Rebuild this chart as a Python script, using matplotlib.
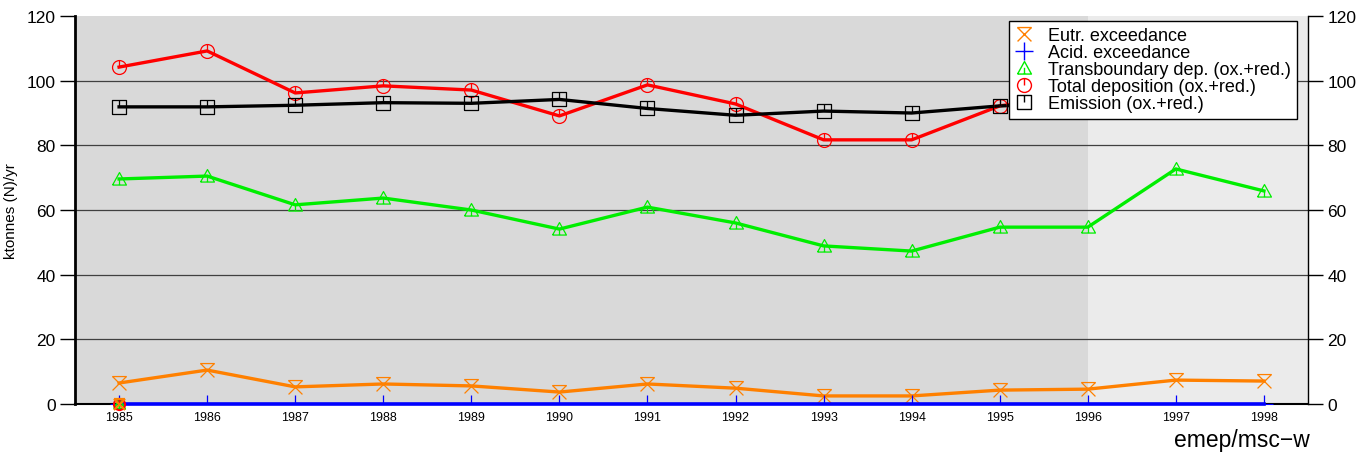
import numpy as np
import matplotlib
matplotlib.use("Agg")
import matplotlib.pyplot as plt
from matplotlib.path import Path
from matplotlib.lines import Line2D

plt.rcParams['font.family'] = ['Liberation Sans', 'DejaVu Sans']

# data
years = [1985, 1986, 1987, 1988, 1989, 1990, 1991, 1992, 1993, 1994, 1995, 1996, 1997, 1998]
eutr_exc = [6.5, 10.5, 5.3, 6.2, 5.6, 3.7, 6.2, 4.9, 2.5, 2.5, 4.3, 4.6, 7.4, 7.1]
acid_exc = [0, 0, 0, 0, 0, 0, 0, 0, 0, 0, 0, 0, 0, 0]
transb_dep = [69.6, 70.5, 61.6, 63.7, 60.0, 54.1, 60.9, 56.0, 48.9, 47.3, 54.7, 54.7, 72.7, 65.9]
total_dep = [104.2, 109.2, 96.2, 98.4, 97.1, 89.1, 98.7, 92.8, 81.7, 81.7, 92.2, 96.0, 99.0, 97.0]
emission = [91.9, 91.9, 92.4, 93.2, 93.0, 94.2, 91.4, 89.3, 90.6, 90.0, 92.2, 93.0, 93.5, 93.0]
labels = ["Eutr. exceedance", "Acid. exceedance", "Transboundary dep. (ox.+red.)",
          "Total deposition (ox.+red.)", "Emission (ox.+red.)"]

# custom markers with a little tick
M, L = Path.MOVETO, Path.LINETO
hourglass = Path([(-1, 1), (1, -1), (1, 1), (-1, -1), (-1, 1), (1, 1)], [M, L, M, L, M, L])
tick = Path([(0, 0), (0, 1)], [M, L])
circ_tick = Path.make_compound_path(Path.unit_circle(), tick)
tri = Path([(-1, -0.8), (1, -0.8), (0, 1), (-1, -0.8)], [M, L, L, L])
tri_tick = Path.make_compound_path(tri, Path([(0, -0.8), (0, 0.1)], [M, L]))
sq = Path([(-1, -1), (1, -1), (1, 1), (-1, 1), (-1, -1)], [M, L, L, L, L])
sq_tick = Path.make_compound_path(sq, tick)

orange = '#ff8000'
blue = '#0000ff'
green = '#00ee00'
red = '#ff0000'

fig = plt.figure(figsize=(13.67, 4.56), dpi=100)
ax = fig.add_axes([0.0549, 0.1118, 0.9019, 0.8509])
ax.set_xlim(1984.5, 1998.5)
ax.set_ylim(0, 120)

ax.set_facecolor('none')
ax.axvspan(1984.5, 1996, color='#d9d9d9', zorder=0, lw=0)
ax.axvspan(1996, 1998.5, color='#ebebeb', zorder=0, lw=0)
for yv in [20, 40, 60, 80, 100]:
    ax.axhline(yv, color='#404040', lw=0.9, zorder=1)

series = [
    (eutr_exc, orange, hourglass),
    (acid_exc, blue, '+'),
    (transb_dep, green, tri_tick),
    (total_dep, red, circ_tick),
    (emission, 'black', sq_tick),
]
order_z = [4, 5, 3, 3, 3]
handles = []
for (vals, col, mk), lab, z in zip(series, labels, order_z):
    ms = 10 if mk != '+' else 13
    is_blue = col == blue
    ax.plot(years, vals, color=col, lw=2.6 if is_blue else 2.4, zorder=z, clip_on=not is_blue)
    ax.plot(years, vals, ls='none', marker=mk, ms=ms,
            mfc='none', mec=col, mew=0.9, zorder=z + 0.5)
    handles.append(Line2D([], [], ls='none', marker=mk, ms=ms,
                          mfc='none', mec=col, mew=1.0, label=lab))

# the small cluster of markers at 1985 on the zero line
for (vals, col, mk) in [series[2], series[3], series[0]]:
    ax.plot([years[0]], [0], ls='none', marker=mk, ms=8, mfc='none', mec=col, mew=1.5,
            zorder=6, clip_on=False)

ax.set_xticks(years)
ax.set_xticklabels([str(y) for y in years], fontsize=9)
ax.tick_params(axis='x', length=0, pad=5)
ax.set_yticks([0, 20, 40, 60, 80, 100, 120])
ax.tick_params(axis='y', which='both', direction='out', length=11, width=1,
               labelsize=12.5, right=True, labelright=True, left=True, labelleft=True, pad=3)

ax.spines['top'].set_visible(False)
ax.spines['left'].set_linewidth(2)
ax.spines['bottom'].set_linewidth(1.5)
ax.spines['right'].set_linewidth(1)

ax.set_ylabel("ktonnes (N)/yr", fontsize=11)
ax.yaxis.set_label_coords(-0.046, 0.5)

leg = ax.legend(handles=handles, loc='upper right', bbox_to_anchor=(0.991, 0.987),
                fontsize=13, frameon=True, fancybox=False, edgecolor='black',
                framealpha=1, borderaxespad=0, labelspacing=0.0, handletextpad=0.8,
                borderpad=0.35, handlelength=1.0)
leg.get_frame().set_linewidth(1)
leg.set_zorder(10)

fig.text(0.958, 0.035, "emep/msc\u2212w", fontsize=16.5, ha='right', va='center')

fig.savefig("out.png", dpi=100)
